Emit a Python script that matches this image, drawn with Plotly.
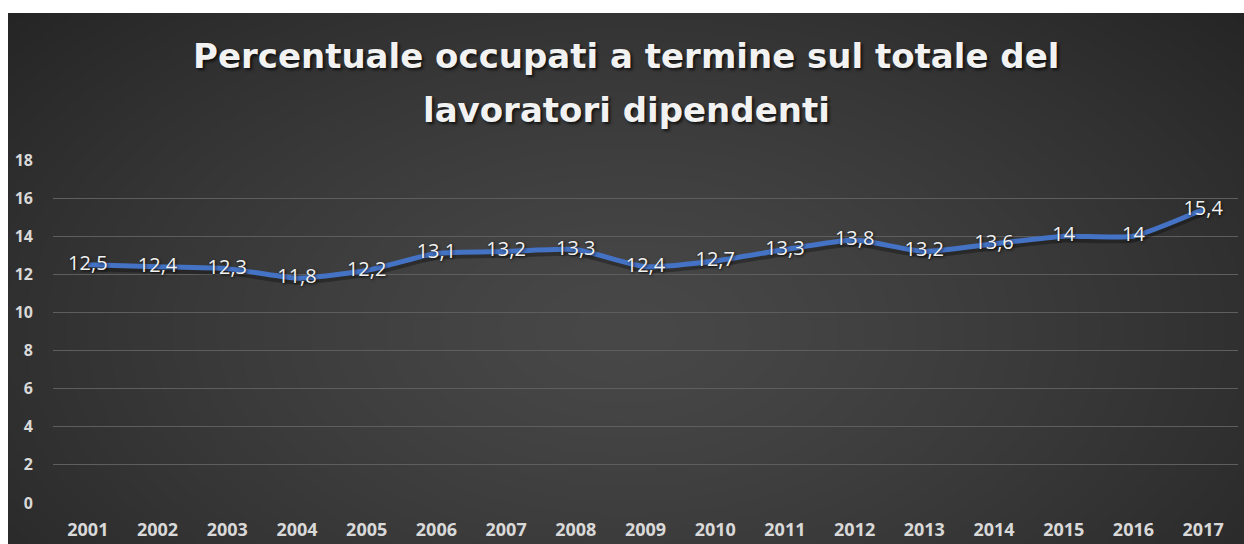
import zlib, struct, base64
import numpy as np
import plotly.graph_objects as go

years = [str(y) for y in range(2001, 2018)]
values = [12.5, 12.4, 12.3, 11.8, 12.2, 13.1, 13.2, 13.3, 12.4, 12.7, 13.3, 13.8, 13.2, 13.6, 14.0, 14.0, 15.4]
labels = [(f"{v:g}").replace(".", ",") for v in values]
title_lines = ["Percentuale occupati a termine sul totale del", "lavoratori dipendenti"]
y_ticks = list(range(0, 19, 2))

W, H = 1244, 544
ml, mr, mt, mb = 53, 6, 160, 41
pw, ph = W - ml - mr, H - mt - mb


def png_uri(arr):
    h, w, _ = arr.shape
    raw = b"".join(b"\x00" + arr[i].tobytes() for i in range(h))

    def chunk(t, d):
        c = struct.pack(">I", len(d)) + t + d
        return c + struct.pack(">I", zlib.crc32(t + d) & 0xFFFFFFFF)

    png = (b"\x89PNG\r\n\x1a\n" + chunk(b"IHDR", struct.pack(">IIBBBBB", w, h, 8, 2, 0, 0, 0))
           + chunk(b"IDAT", zlib.compress(raw, 9)) + chunk(b"IEND", b""))
    return "data:image/png;base64," + base64.b64encode(png).decode()


gw, gh = 412, 177
xx, yy = np.meshgrid(np.linspace(0, 1, gw), np.linspace(0, 1, gh))
r = np.sqrt(((xx - 0.5) / 0.55) ** 2 + ((yy - 0.6) / 0.75) ** 2)
c = 72 - 36 * np.clip(r / 1.25, 0, 1) ** 1.3
img = np.stack([c, c, c], axis=-1).astype(np.uint8)
bg_uri = png_uri(img)

# background region in pixel coords: x 8..1244, y 13..544
x0p = (8 - ml) / pw
x1p = (W - ml) / pw
y1p = (H - mb - 13) / ph
y0p = (H - mb - H) / ph


def py_to_paper(py):
    return (H - mb - py) / ph


fig = go.Figure()
fig.add_trace(go.Scatter(
    x=years, y=[v - 0.15 for v in values], mode="lines",
    line=dict(color="rgba(0,0,0,0.3)", width=7, shape="spline", smoothing=0.5),
    hoverinfo="skip", showlegend=False, cliponaxis=False))
fig.add_trace(go.Scatter(
    x=years, y=values, mode="lines+text", text=labels, textposition="middle center",
    textfont=dict(family="Open Sans", size=20, color="#f2f2f2", shadow="1px 1px 3px rgba(0,0,0,0.8)"),
    line=dict(color="#4472C4", width=5, shape="spline", smoothing=0.5),
    showlegend=False, cliponaxis=False))

title_font = dict(family="DejaVu Sans", size=34, color="#f2f2f2", weight="bold",
                  shadow="2px 2px 3px rgba(0,0,0,0.7)")
annotations = [
    dict(text=title_lines[0], x=(626 - ml) / pw, y=py_to_paper(56), xref="paper", yref="paper",
         xanchor="center", yanchor="middle", showarrow=False, font=title_font),
    dict(text=title_lines[1], x=(626 - ml) / pw, y=py_to_paper(110), xref="paper", yref="paper",
         xanchor="center", yanchor="middle", showarrow=False, font=title_font),
]

fig.update_layout(
    width=W, height=H,
    margin=dict(l=ml, r=mr, t=mt, b=mb, autoexpand=False),
    paper_bgcolor="white", plot_bgcolor="rgba(0,0,0,0)",
    images=[dict(source=bg_uri, xref="paper", yref="paper", x=x0p, y=y1p,
                 sizex=x1p - x0p, sizey=y1p - y0p, xanchor="left", yanchor="top",
                 sizing="stretch", layer="below")],
    annotations=annotations,
    xaxis=dict(type="category", range=[-0.5, len(years) - 0.5], showgrid=False, zeroline=False,
               showline=False, automargin=False, ticks="", ticklabelstandoff=14,
               tickfont=dict(family="Open Sans", size=18, color="#d9d9d9", weight="bold")),
    yaxis=dict(range=[0, 18], tickvals=y_ticks, showgrid=True, gridcolor="#5e5e5e", gridwidth=1,
               automargin=False, zeroline=False, showline=False, ticks="", ticklabelstandoff=19,
               tickfont=dict(family="Open Sans", size=16, color="#d9d9d9", weight="bold")),
)

fig.write_html("out.html", config={"displayModeBar": False},
               post_script="document.body.style.margin='0';document.body.style.overflow='hidden';")
